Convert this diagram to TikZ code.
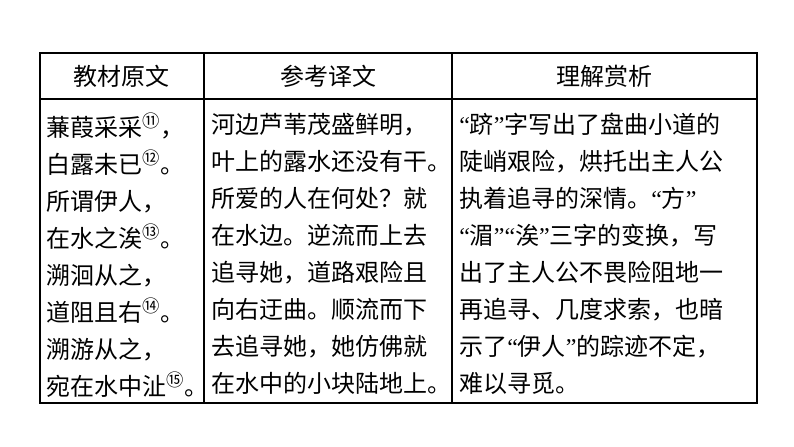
\documentclass[tikz,border=0pt]{standalone}
\usepackage{fontspec}
\setmainfont{Noto Sans CJK SC}
\newfontfamily\quotefont{Liberation Serif}
\newcommand{\circnum}[1]{\textsuperscript{\fontsize{13}{13}\selectfont #1}}
\newcommand{\oq}{{\quotefont “}}
\newcommand{\cq}{{\quotefont ”}}
\tikzset{
  headtext/.style={font=\fontsize{18}{18}\selectfont},
  coltext/.style={anchor=north west, inner sep=0pt, align=left,
    font=\fontsize{18}{27.75}\selectfont}
}
\begin{document}
\begin{tikzpicture}[x=0.75pt,y=-0.75pt]
\useasboundingbox (0,0) rectangle (794,447);
%\draw [lightgray](0,0) grid (794,447);
\draw [thick](40,53) rectangle (757,403);
\draw [thick](40,99) -- (757,99);
\draw [thick](204,53) -- (204,403);
\draw [thick](452,53) -- (452,403);

\node [headtext] (h1) at (122,76){教材原文};
\node [headtext] (h2) at (328,76){参考译文};
\node [headtext] (h3) at (604,76){理解赏析};

\node [coltext] (c1) at (46,113){蒹葭采采\circnum{⑪}，\\白露未已\circnum{⑫}。\\所谓伊人，\\在水之涘\circnum{⑬}。\\溯洄从之，\\道阻且右\circnum{⑭}。\\溯游从之，\\宛在水中沚\circnum{⑮}。};
\node [coltext] (c2) at (211,113){河边芦苇茂盛鲜明，\\叶上的露水还没有干。\\所爱的人在何处？就\\在水边。逆流而上去\\追寻她，道路艰险且\\向右迂曲。顺流而下\\去追寻她，她仿佛就\\在水中的小块陆地上。};
\node [coltext] (c3) at (459,113){\oq 跻\cq 字写出了盘曲小道的\\陡峭艰险，烘托出主人公\\执着追寻的深情。\oq 方\cq\\\oq 湄\cq\oq 涘\cq 三字的变换，写\\出了主人公不畏险阻地一\\再追寻、几度求索，也暗\\示了\oq 伊人\cq 的踪迹不定，\\难以寻觅。};
\end{tikzpicture}
\end{document}
